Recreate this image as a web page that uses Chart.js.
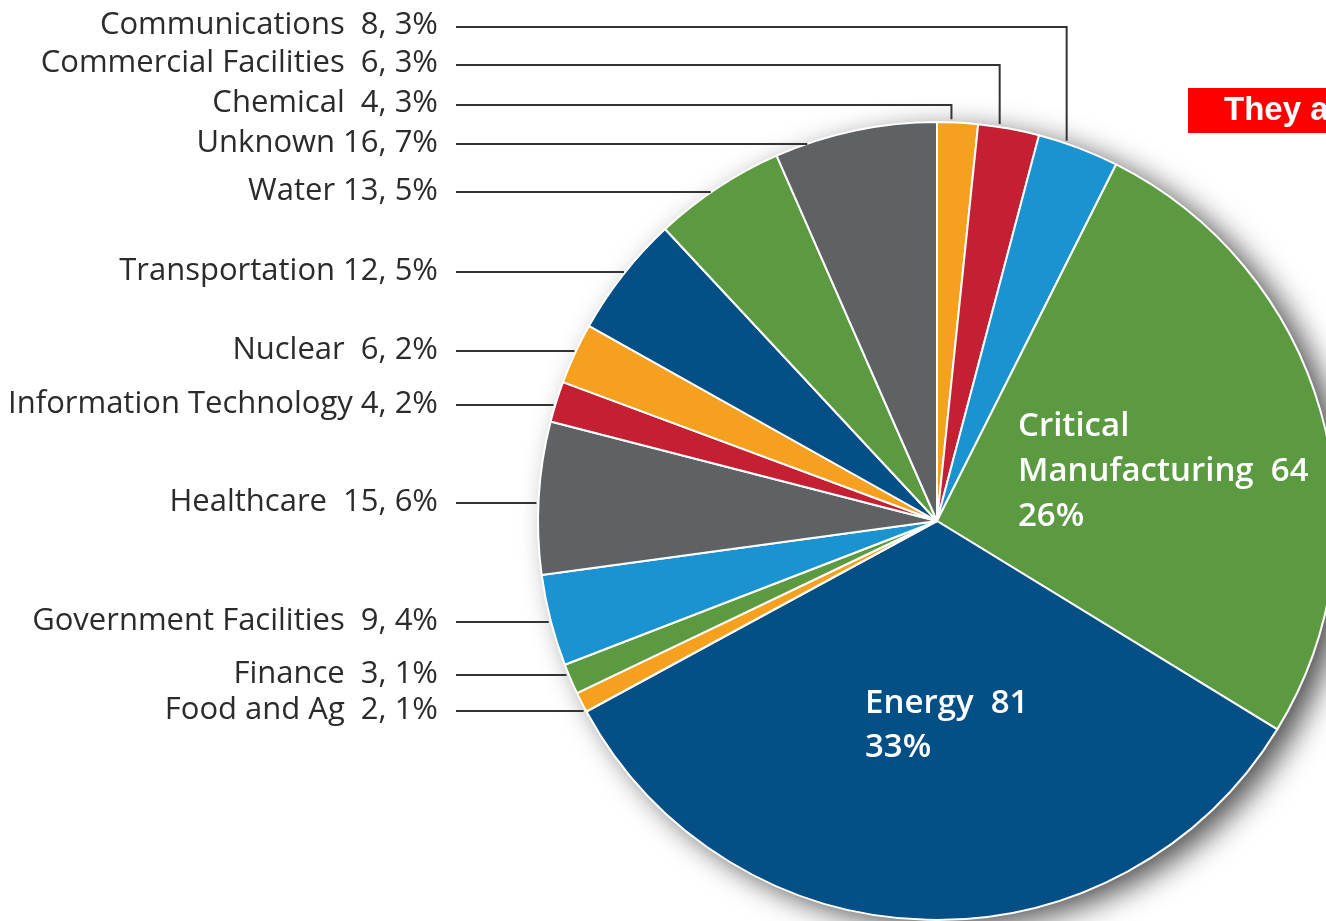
<!DOCTYPE html>
<html>
<head>
<meta charset="utf-8">
<script src="https://cdn.jsdelivr.net/npm/chart.js@4"></script>
<style>
  html, body { margin: 0; padding: 0; background: #fff; overflow: hidden; }
  #wrap { width: 1326px; height: 921px; overflow: hidden; position: relative; }
</style>
</head>
<body>
<div id="wrap"><canvas id="pie" width="1400" height="930"></canvas></div>
<script>
// sectors clockwise from 12 o'clock
const sectors = ["Chemical", "Commercial Facilities", "Communications", "Critical Manufacturing", "Energy",
  "Food and Ag", "Finance", "Government Facilities", "Healthcare", "Information Technology",
  "Nuclear", "Transportation", "Water", "Unknown"];
const counts = [4, 6, 8, 64, 81, 2, 3, 9, 15, 4, 6, 12, 13, 16];
const shares = ["3%", "3%", "3%", "26%", "33%", "1%", "1%", "4%", "6%", "2%", "2%", "5%", "5%", "7%"];
const singleSpace = ["Information Technology", "Transportation", "Water", "Unknown"];

const ORANGE = "#f5a01f", RED = "#c41f33", BLUE = "#1b93d0", GREEN = "#5b9a41", NAVY = "#034f86", GRAY = "#5e6265";
const colors = [ORANGE, RED, BLUE, GREEN, NAVY, ORANGE, GREEN, BLUE, GRAY, RED, ORANGE, NAVY, GREEN, GRAY];

// layout of the outside labels (text centre y); null = label inside slice
const labelY = [103, 63, 25, null, null, 710, 674, 621, 502, 404, 350, 271, 191, 143];
const elbowSet = ["Chemical", "Commercial Facilities", "Communications"];
const TEXT_RIGHT = 438, LINE_START = 456;

const shadowPlugin = {
  id: "shadow",
  beforeDatasetsDraw(chart) {
    const arc = chart.getDatasetMeta(0).data[0];
    const ctx = chart.ctx;
    ctx.save();
    ctx.shadowColor = "rgba(0,0,0,0.7)";
    ctx.shadowBlur = 30;
    ctx.shadowOffsetX = 14;
    ctx.shadowOffsetY = 8;
    ctx.fillStyle = "#fff";
    ctx.beginPath();
    ctx.arc(arc.x, arc.y, arc.outerRadius - 1, 0, Math.PI * 2);
    ctx.fill();
    ctx.restore();
  }
};

const labelPlugin = {
  id: "labels",
  afterDatasetsDraw(chart) {
    const ctx = chart.ctx;
    const meta = chart.getDatasetMeta(0);
    ctx.save();
    ctx.font = "31px 'Open Sans'";
    ctx.textAlign = "right";
    ctx.textBaseline = "middle";
    ctx.strokeStyle = "#333";
    ctx.lineWidth = 2;
    meta.data.forEach((el, i) => {
      if (labelY[i] == null) return;
      const name = sectors[i];
      const gap = singleSpace.includes(name) ? " " : "  ";
      const y = labelY[i];
      ctx.fillStyle = "#2b2b2b";
      ctx.fillText(name + gap + counts[i] + ", " + shares[i], TEXT_RIGHT, y);
      const r = el.outerRadius;
      ctx.beginPath();
      if (elbowSet.includes(name)) {
        const a = el.startAngle + (el.endAngle - el.startAngle) * 0.35;
        const ex = el.x + r * Math.cos(a);
        const ey = el.y + r * Math.sin(a);
        ctx.moveTo(LINE_START, y + 2);
        ctx.lineTo(ex, y + 2);
        ctx.lineTo(ex, ey - 3);
      } else {
        const dy = y - el.y;
        const ex = el.x - Math.sqrt(r * r - dy * dy);
        ctx.moveTo(LINE_START, y + 1);
        ctx.lineTo(ex - 2, y + 1);
      }
      ctx.stroke();
    });

    // labels inside the two big slices
    const c = meta.data[0];
    ctx.textAlign = "left";
    ctx.fillStyle = "#fff";
    ctx.font = "600 33px 'Open Sans'";
    const cm = sectors.indexOf("Critical Manufacturing");
    ctx.fillText("Critical", c.x + 81, 427);
    ctx.fillText("Manufacturing  " + counts[cm], c.x + 81, 472);
    ctx.fillText(shares[cm], c.x + 81, 517);
    const en = sectors.indexOf("Energy");
    ctx.fillText("Energy  " + counts[en], c.x - 72, 704);
    ctx.fillText(shares[en], c.x - 72, 748);

    // red callout box cut off at the right
    ctx.fillStyle = "#ff0000";
    ctx.fillRect(1188, 88, 220, 45);
    ctx.fillStyle = "#fff";
    ctx.font = "bold 33px 'Liberation Sans'";
    ctx.fillText("They are", 1224, 111);
    ctx.restore();
  }
};

new Chart(document.getElementById("pie"), {
  type: "pie",
  data: {
    labels: sectors,
    datasets: [{
      data: counts,
      backgroundColor: colors,
      borderColor: "#fff",
      borderWidth: 2,
    }],
  },
  options: {
    responsive: false,
    animation: false,
    layout: { padding: { left: 537, top: 121, right: 63, bottom: 9 } },
    plugins: {
      legend: { display: false },
      tooltip: { enabled: false },
    },
  },
  plugins: [shadowPlugin, labelPlugin],
});
</script>
</body>
</html>
